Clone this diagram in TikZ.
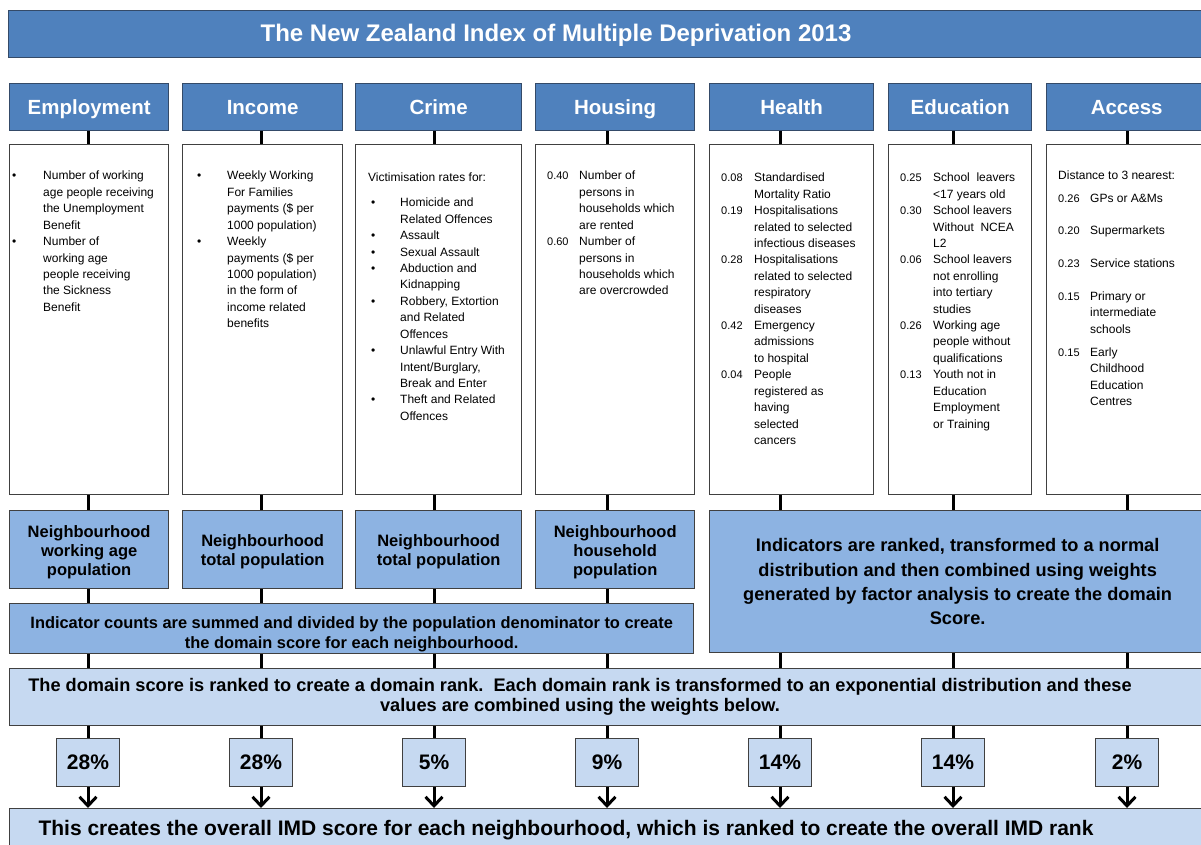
\documentclass[tikz,border=0pt]{standalone}
\usepackage{fontspec}
\setmainfont{Liberation Sans}
\usetikzlibrary{positioning,arrows.meta}
\definecolor{hdrblue}{RGB}{79,129,189}
\definecolor{hdredge}{RGB}{52,74,104}
\definecolor{midblue}{RGB}{141,179,226}
\definecolor{paleblue}{RGB}{198,217,241}
\definecolor{boxedge}{RGB}{64,64,64}

\newcommand{\wt}[1]{{\fontsize{11}{16.4}\selectfont #1}}

\begin{document}
\begin{tikzpicture}[x=1pt,y=-1pt,>={Straight Barb[length=9pt,width=17pt]},
		box/.style={draw=boxedge,line width=1.3pt,anchor=north west,inner sep=0pt},
		head/.style={box,draw=hdredge,fill=hdrblue,text=white,minimum height=47pt,text height=18.5pt,text depth=3.5pt,font=\bfseries\fontsize{20.5}{24}\selectfont},
		detail/.style={box,fill=white,minimum height=350pt},
		denom/.style={box,fill=midblue,align=center,font=\bfseries\fontsize{16.5}{19}\selectfont},
		pale/.style={box,fill=paleblue},
		weight/.style={pale,anchor=north,minimum width=63pt,minimum height=48pt,font=\bfseries\fontsize{21}{24}\selectfont},
		txt/.style={anchor=base west,inner sep=0pt,font=\fontsize{12}{16.4}\selectfont},
		link/.style={line width=3pt}]
	\useasboundingbox (0,0) rectangle (1201,845);
	\clip (0,0) rectangle (1201,845);

	\coordinate (c1) at (88,0);
	\coordinate (c2) at (261,0);
	\coordinate (c3) at (434,0);
	\coordinate (c4) at (607,0);
	\coordinate (c5) at (780,0);
	\coordinate (c6) at (953,0);
	\coordinate (c7) at (1127,0);

	\node[head,minimum width=1197pt] (title) at (8,10) {};
	\node[anchor=base,text=white,font=\bfseries\fontsize{24}{28}\selectfont] (titletxt) at (556,42) {The New Zealand Index of Multiple Deprivation 2013};

	\node[head,minimum width=159pt] (emp) at (9,83) {Employment};
	\node[head,minimum width=160pt] (inc) at (182,83) {Income};
	\node[head,minimum width=166pt] (cri) at (355,83) {Crime};
	\node[head,minimum width=159pt] (hou) at (535,83) {Housing};
	\node[head,minimum width=164pt] (hea) at (709,83) {Health};
	\node[head,minimum width=143pt] (edu) at (888,83) {Education};
	\node[head,minimum width=160pt] (acc) at (1046,83) {Access};

	\node[detail,minimum width=159pt] (empbox) at (9,144) {};
	\node[detail,minimum width=160pt] (incbox) at (182,144) {};
	\node[detail,minimum width=166pt] (cribox) at (355,144) {};
	\node[detail,minimum width=159pt] (houbox) at (535,144) {};
	\node[detail,minimum width=164pt] (heabox) at (709,144) {};
	\node[detail,minimum width=143pt] (edubox) at (888,144) {};
	\node[detail,minimum width=160pt] (accbox) at (1046,144) {};

	\node[txt] (emptxt) at (12,180) {\begin{tabular}[t]{@{}p{31pt}@{}l@{}}
		\textbullet & Number of working\\
		& age people receiving\\
		& the Unemployment\\
		& Benefit\\
		\textbullet & Number of\\
		& working age\\
		& people receiving\\
		& the Sickness\\
		& Benefit
	\end{tabular}};
	\node[txt] (inctxt) at (197,180) {\begin{tabular}[t]{@{}p{30pt}@{}l@{}}
		\textbullet & Weekly Working\\
		& For Families\\
		& payments (\$ per\\
		& 1000 population)\\
		\textbullet & Weekly\\
		& payments (\$ per\\
		& 1000 population)\\
		& in the form of\\
		& income related\\
		& benefits
	\end{tabular}};
	\node[txt] (critxt) at (368,182) {\begin{tabular}[t]{@{}p{32pt}@{}l@{}}
		\multicolumn{2}{@{}l@{}}{Victimisation rates for:}\\[8.6pt]
		\hspace{3pt}\textbullet & Homicide and\\
		& Related Offences\\
		\hspace{3pt}\textbullet & Assault\\
		\hspace{3pt}\textbullet & Sexual Assault\\
		\hspace{3pt}\textbullet & Abduction and\\
		& Kidnapping\\
		\hspace{3pt}\textbullet & Robbery, Extortion\\
		& and Related\\
		& Offences\\
		\hspace{3pt}\textbullet & Unlawful Entry With\\
		& Intent/Burglary,\\
		& Break and Enter\\
		\hspace{3pt}\textbullet & Theft and Related\\
		& Offences
	\end{tabular}};
	\node[txt] (houtxt) at (547,180) {\begin{tabular}[t]{@{}p{32pt}@{}l@{}}
		\wt{0.40} & Number of\\
		& persons in\\
		& households which\\
		& are rented\\
		\wt{0.60} & Number of\\
		& persons in\\
		& households which\\
		& are overcrowded
	\end{tabular}};
	\node[txt] (heatxt) at (721,182) {\begin{tabular}[t]{@{}p{33pt}@{}l@{}}
		\wt{0.08} & Standardised\\
		& Mortality Ratio\\
		\wt{0.19} & Hospitalisations\\
		& related to selected\\
		& infectious diseases\\
		\wt{0.28} & Hospitalisations\\
		& related to selected\\
		& respiratory\\
		& diseases\\
		\wt{0.42} & Emergency\\
		& admissions\\
		& to hospital\\
		\wt{0.04} & People\\
		& registered as\\
		& having\\
		& selected\\
		& cancers
	\end{tabular}};
	\node[txt] (edutxt) at (900,182) {\begin{tabular}[t]{@{}p{33pt}@{}l@{}}
		\wt{0.25} & School\ \ leavers\\
		& <17 years old\\
		\wt{0.30} & School leavers\\
		& Without\ \ NCEA\\
		& L2\\
		\wt{0.06} & School leavers\\
		& not enrolling\\
		& into tertiary\\
		& studies\\
		\wt{0.26} & Working age\\
		& people without\\
		& qualifications\\
		\wt{0.13} & Youth not in\\
		& Education\\
		& Employment\\
		& or Training
	\end{tabular}};
	\node[txt] (acctxt) at (1058,180) {\begin{tabular}[t]{@{}p{32pt}@{}l@{}}
		\multicolumn{2}{@{}l@{}}{Distance to 3 nearest:}\\[5.6pt]
		\wt{0.26} & GPs or A\&Ms\\[16.4pt]
		\wt{0.20} & Supermarkets\\[16.4pt]
		\wt{0.23} & Service stations\\[16.4pt]
		\wt{0.15} & Primary or\\
		& intermediate\\
		& schools\\[6.6pt]
		\wt{0.15} & Early\\
		& Childhood\\
		& Education\\
		& Centres
	\end{tabular}};

	\node[denom,minimum width=159pt,minimum height=78pt] (empden) at (9,510) {\rule{0pt}{16.5pt}Neighbourhood\\working age\\population};
	\node[denom,minimum width=160pt,minimum height=78pt] (incden) at (182,510) {\rule{0pt}{16.5pt}Neighbourhood\\total population};
	\node[denom,minimum width=166pt,minimum height=78pt] (criden) at (355,510) {\rule{0pt}{16.5pt}Neighbourhood\\total population};
	\node[denom,minimum width=159pt,minimum height=78pt] (houden) at (535,510) {\rule{0pt}{16.5pt}Neighbourhood\\household\\population};
	\node[denom,minimum width=496pt,minimum height=142pt,font=\bfseries\fontsize{18.2}{24.3}\selectfont] (indic) at (709,510) {Indicators are ranked, transformed to a normal\\distribution and then combined using weights\\generated by factor analysis to create the domain\\Score.};
	\node[denom,minimum width=684pt,minimum height=50pt,font=\bfseries\fontsize{16.4}{20}\selectfont] (counts) at (9,603) {\rule{0pt}{24pt}Indicator counts are summed and divided by the population denominator to create\\the domain score for each neighbourhood.};

	\node[pale,minimum width=1195pt,minimum height=57pt] (rank) at (9,668) {};
	\node[align=center,font=\bfseries\fontsize{18.2}{20}\selectfont] (ranktxt) at (580,697) {The domain score is ranked to create a domain rank.\ \ Each domain rank is transformed to an exponential distribution and these\\values are combined using the weights below.};

	\node[weight] (w1) at (c1 |- 0,738) {28\%};
	\node[weight] (w2) at (c2 |- 0,738) {28\%};
	\node[weight] (w3) at (c3 |- 0,738) {5\%};
	\node[weight] (w4) at (c4 |- 0,738) {9\%};
	\node[weight] (w5) at (c5 |- 0,738) {14\%};
	\node[weight] (w6) at (c6 |- 0,738) {14\%};
	\node[weight] (w7) at (c7 |- 0,738) {2\%};

	\node[pale,minimum width=1195pt,minimum height=50pt] (imd) at (9,808) {};
	\node[font=\bfseries\fontsize{21}{24}\selectfont] (imdtxt) at (566,830) {This creates the overall IMD score for each neighbourhood, which is ranked to create the overall IMD rank};

	\draw[link] (emp.south -| c1) -- (empbox.north -| c1)
		(inc.south -| c2) -- (incbox.north -| c2)
		(cri.south -| c3) -- (cribox.north -| c3)
		(hou.south -| c4) -- (houbox.north -| c4)
		(hea.south -| c5) -- (heabox.north -| c5)
		(edu.south -| c6) -- (edubox.north -| c6)
		(acc.south -| c7) -- (accbox.north -| c7);
	\draw[link] (empbox.south -| c1) -- (empden.north -| c1)
		(incbox.south -| c2) -- (incden.north -| c2)
		(cribox.south -| c3) -- (criden.north -| c3)
		(houbox.south -| c4) -- (houden.north -| c4)
		(heabox.south -| c5) -- (indic.north -| c5)
		(edubox.south -| c6) -- (indic.north -| c6)
		(accbox.south -| c7) -- (indic.north -| c7);
	\draw[link] (empden.south -| c1) -- (counts.north -| c1)
		(incden.south -| c2) -- (counts.north -| c2)
		(criden.south -| c3) -- (counts.north -| c3)
		(houden.south -| c4) -- (counts.north -| c4);
	\draw[link] (counts.south -| c1) -- (rank.north -| c1)
		(counts.south -| c2) -- (rank.north -| c2)
		(counts.south -| c3) -- (rank.north -| c3)
		(counts.south -| c4) -- (rank.north -| c4)
		(indic.south -| c5) -- (rank.north -| c5)
		(indic.south -| c6) -- (rank.north -| c6)
		(indic.south -| c7) -- (rank.north -| c7);
	\draw[link] (rank.south -| w1) -- (w1)
		(rank.south -| w2) -- (w2)
		(rank.south -| w3) -- (w3)
		(rank.south -| w4) -- (w4)
		(rank.south -| w5) -- (w5)
		(rank.south -| w6) -- (w6)
		(rank.south -| w7) -- (w7);
	\draw[link,->] (w1) edge (imd.north -| w1)
		(w2) edge (imd.north -| w2)
		(w3) edge (imd.north -| w3)
		(w4) edge (imd.north -| w4)
		(w5) edge (imd.north -| w5)
		(w6) edge (imd.north -| w6)
		(w7) edge (imd.north -| w7);
\end{tikzpicture}
\end{document}
